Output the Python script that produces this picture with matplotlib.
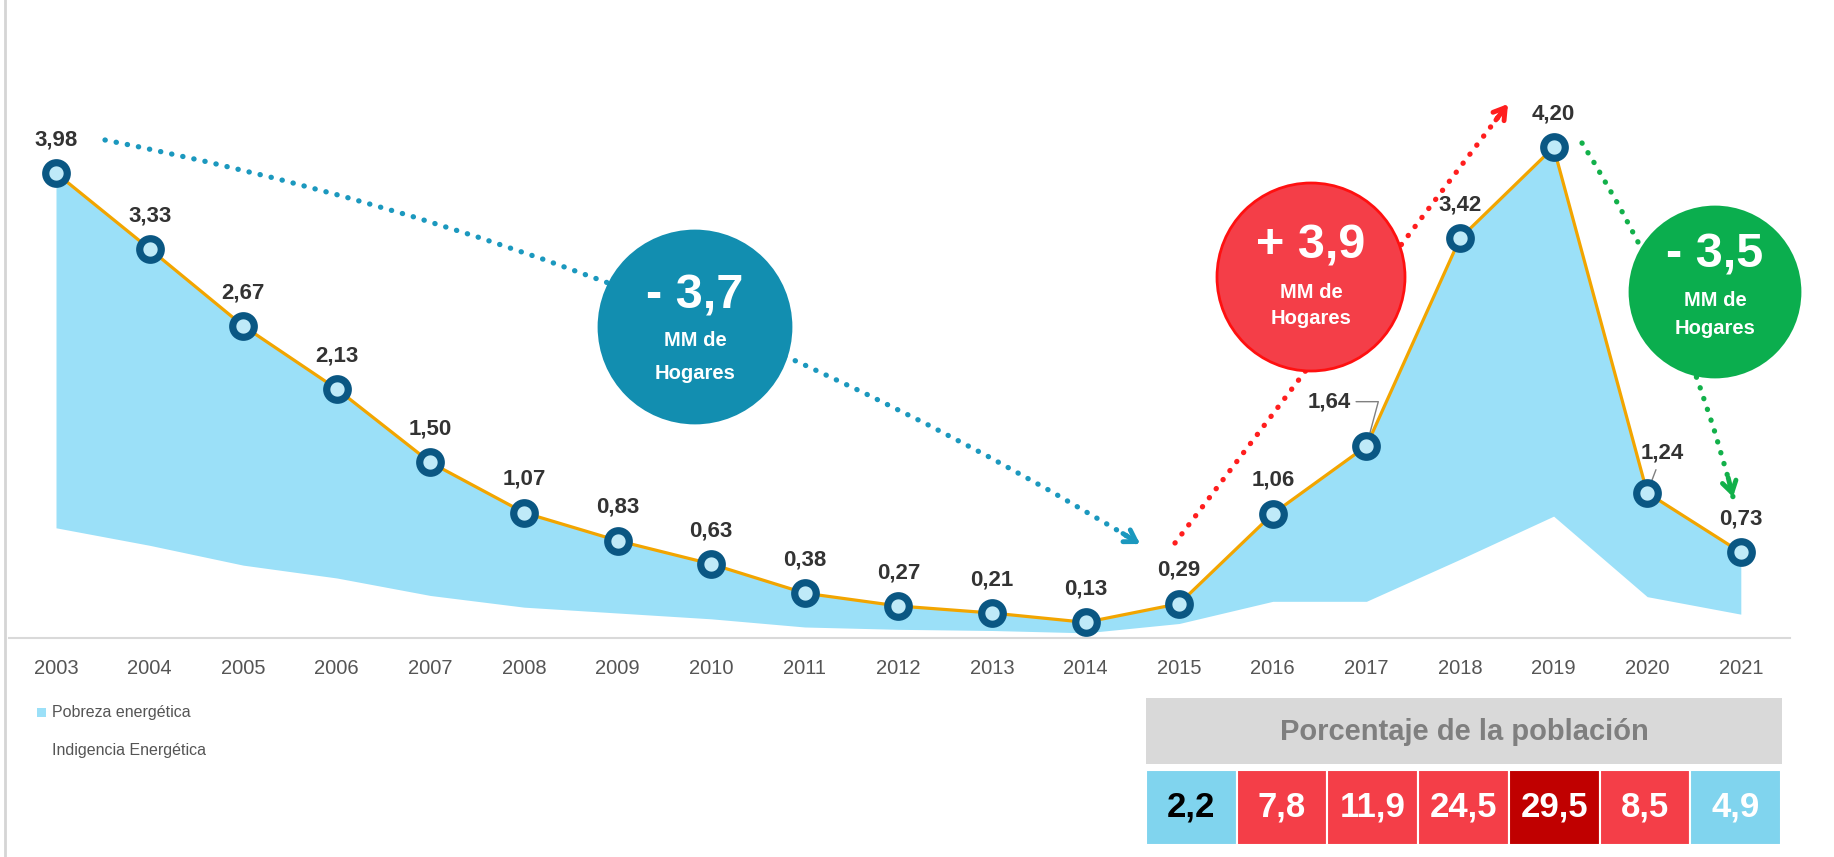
import numpy as np
import matplotlib
matplotlib.use("Agg")
import matplotlib.pyplot as plt
from matplotlib.patches import Circle, Rectangle, FancyArrowPatch

years = list(range(2003, 2022))
pobreza = [3.98, 3.33, 2.67, 2.13, 1.50, 1.07, 0.83, 0.63, 0.38, 0.27, 0.21, 0.13,
           0.29, 1.06, 1.64, 3.42, 4.20, 1.24, 0.73]
indigencia = [0.94, 0.79, 0.62, 0.51, 0.36, 0.26, 0.21, 0.16, 0.09, 0.07, 0.06, 0.04,
              0.12, 0.31, 0.31, 0.67, 1.04, 0.35, 0.20]

tabla_anios = [2015, 2016, 2017, 2018, 2019, 2020, 2021]
poblacion = [2.2, 7.8, 11.9, 24.5, 29.5, 8.5, 4.9]
tabla_colores = ['#80D4EE', '#F43E48', '#F43E48', '#F43E48', '#C00000', '#F43E48', '#80D4EE']
tabla_texto = ['black', 'white', 'white', 'white', 'white', 'white', 'white']

NARROW = ['Liberation Sans Narrow', 'Liberation Sans', 'DejaVu Sans']
SANS = ['Liberation Sans', 'DejaVu Sans']

W, H = 1834, 857
x0_px, step = 56, 93.6      # pixel of 2003, pixels per year
y0_px, k = 637.5, 116.7     # pixel of zero, pixels per unit

fig = plt.figure(figsize=(W / 100, H / 100), dpi=100)
ax = fig.add_axes([0, 0, 1, 1])
ax.set_xlim(2003 - x0_px / step, 2003 + (W - x0_px) / step)
ax.set_ylim(-(H - y0_px) / k, y0_px / k)
ax.axis('off')

# area + line
ax.fill_between(years, indigencia, pobreza, color='#9BE0F8', lw=0, zorder=1)
ax.axhline(0, xmin=9 / W, xmax=1790 / W, color='#D9D9D9', lw=1.5, zorder=0)
ax.plot(years, pobreza, color='#F2A500', lw=2.3, zorder=3)
ax.plot(years, pobreza, ls='none', marker='o', ms=15.5, mfc='#BFEAF8',
        mec='#0A5783', mew=5.2, zorder=4)

# value labels
lbl = dict(ha='center', va='center', fontsize=16, fontweight='bold',
           family=NARROW, color='#333333')
for yr, v in zip(years, pobreza):
    txt = f"{v:.2f}".replace('.', ',')
    if yr == 2017:
        ax.annotate(txt, (yr, v), xytext=(-27, 32), textcoords='offset points',
                    arrowprops=dict(arrowstyle='-', color='#808080', lw=1,
                                    connectionstyle='angle,angleA=0,angleB=75,rad=0',
                                    shrinkA=2, shrinkB=3), **lbl)
    elif yr == 2020:
        ax.annotate(txt, (yr, v), xytext=(11, 29), textcoords='offset points',
                    arrowprops=dict(arrowstyle='-', color='#808080', lw=1,
                                    shrinkA=3, shrinkB=2), **lbl)
    else:
        ax.annotate(txt, (yr, v), xytext=(0, 24), textcoords='offset points', **lbl)

# year labels
for yr in years:
    ax.text(yr, -(669 - y0_px) / k, str(yr), ha='center', va='center',
            fontsize=14.5, color='#555555', family=SANS)

# table of percentages
cell_left = 2003 + (1146 - x0_px) / step
cell_w = (1781 - 1146) / step / len(tabla_anios)
xs = [cell_left + cell_w * (i + 0.5) for i in range(len(tabla_anios))]
bot = -(845 - y0_px) / k
top = -(770 - y0_px) / k
ax.bar(xs, top - bot, bottom=bot, width=cell_w, color=tabla_colores,
       edgecolor='white', lw=1.5, zorder=2)
for x, p, c in zip(xs, poblacion, tabla_texto):
    ax.text(x, (top + bot) / 2, f"{p:.1f}".replace('.', ','), ha='center', va='center',
            fontsize=25, fontweight='bold', family=NARROW, color=c, zorder=5)

# overlay in pixel coordinates for decorations
ov = fig.add_axes([0, 0, 1, 1], facecolor='none')
ov.set_xlim(0, W)
ov.set_ylim(H, 0)
ov.axis('off')
ov.set_zorder(5)

ov.plot([5, 5], [0, H], color='#D5D5D5', lw=2)

ov.add_patch(Rectangle((1146, 698), 636, 66, color='#D9D9D9', lw=0))
ov.text(1464, 732, 'Porcentaje de la población', ha='center', va='center',
        fontsize=21, fontweight='bold', family=SANS, color='#7F7F7F')

# legend
ov.add_patch(Rectangle((37, 708), 9, 9, color='#9BE0F8', lw=0))
ov.text(52, 713, 'Pobreza energética', ha='left', va='center', fontsize=11.5,
        color='#555555', family=SANS)
ov.text(52, 751, 'Indigencia Energética', ha='left', va='center', fontsize=11.5,
        color='#555555', family=SANS)


def dotted_arrow(p0, p1, rad, color):
    arc = FancyArrowPatch(p0, p1, arrowstyle='-', connectionstyle=f'arc3,rad={rad}',
                          color=color, lw=3.8, ls=(0, (0.05, 2.1)),
                          capstyle='round', shrinkA=0, shrinkB=0, zorder=2)
    ov.add_patch(arc)
    (x0, y0), (x1, y1) = p0, p1
    dx, dy = x1 - x0, y1 - y0
    cx, cy = (x0 + x1) / 2 - rad * dy, (y0 + y1) / 2 + rad * dx
    t = np.array([x1 - cx, y1 - cy])
    t = t / np.hypot(*t)
    tail = (x1 - 20 * t[0], y1 - 20 * t[1])
    ov.annotate('', xy=p1, xytext=tail,
                arrowprops=dict(arrowstyle='->,head_length=0.8,head_width=0.5',
                                color=color, lw=3.5, shrinkA=0, shrinkB=0))


dotted_arrow((105, 140), (1140, 544), -0.09, '#1B98BE')
dotted_arrow((1175, 543), (1508, 104), 0.0, '#FF1E1E')
dotted_arrow((1582, 143), (1733, 497), -0.08, '#12B04A')


def bubble(cx, cy, r, color, big, y_big, y_mm, y_hog, edge=None):
    ov.add_patch(Circle((cx, cy), r, facecolor=color,
                        edgecolor=edge if edge else color, lw=2, zorder=3))
    ov.text(cx, y_big, big, ha='center', va='center', fontsize=35, fontweight='bold',
            color='white', family=SANS, zorder=4)
    ov.text(cx, y_mm, 'MM de', ha='center', va='center', fontsize=14.5,
            fontweight='bold', color='white', family=SANS, zorder=4)
    ov.text(cx, y_hog, 'Hogares', ha='center', va='center', fontsize=14.5,
            fontweight='bold', color='white', family=SANS, zorder=4)


bubble(695, 327, 96, '#128EB0', '- 3,7', 296, 341, 373)
bubble(1311, 277, 94, '#F43E48', '+ 3,9', 246, 292, 318, edge='#FF1010')
bubble(1715, 292, 85, '#0BAE4E', '- 3,5', 255, 301, 329)

fig.savefig('out.png', dpi=100)
